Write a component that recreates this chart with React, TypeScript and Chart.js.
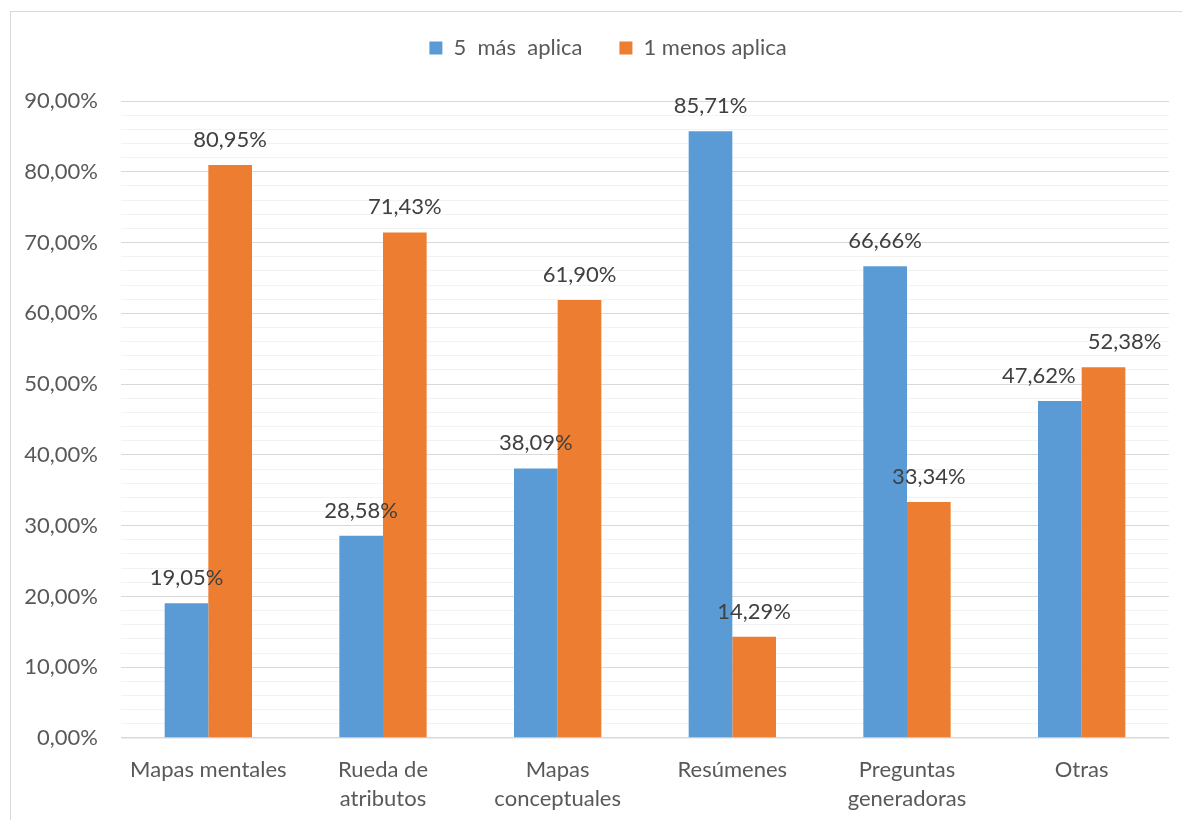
import React, { useEffect, useRef } from "react";
import { Chart, registerables } from "chart.js";

Chart.register(...registerables);

const categories: (string | string[])[] = [
  "Mapas mentales",
  ["Rueda de", "atributos"],
  ["Mapas", "conceptuales"],
  "Resúmenes",
  ["Preguntas", "generadoras"],
  "Otras",
];
const seriesNames = ["5  más  aplica", "1 menos aplica"];
const masAplica = [19.05, 28.58, 38.09, 85.71, 66.66, 47.62];
const menosAplica = [80.95, 71.43, 61.9, 14.29, 33.34, 52.38];
const colors = ["#5B9BD5", "#ED7D31"];

const FONT = "Lato, 'Open Sans', sans-serif";
const FS = 22;
const fmt = (v: number) => v.toFixed(2).replace(".", ",") + "%";

const dataLabels = {
  id: "dataLabels",
  afterDatasetsDraw(chart: any) {
    const ctx = chart.ctx;
    ctx.save();
    ctx.font = `${FS}px ${FONT}`;
    ctx.fillStyle = "#404040";
    ctx.textAlign = "center";
    ctx.textBaseline = "alphabetic";
    const m0 = chart.getDatasetMeta(0);
    const m1 = chart.getDatasetMeta(1);
    const n = chart.data.labels.length;
    for (let i = 0; i < n; i++) {
      const items = [m0, m1].map((m: any, d: number) => {
        const el = m.data[i];
        const v = chart.data.datasets[d].data[i];
        const text = fmt(v);
        return { x: el.x, y: el.y - 18, text, w: ctx.measureText(text).width };
      });
      const [a, b] = items;
      if (Math.abs(a.y - b.y) < 40) {
        const need = (a.w + b.w) / 2 + 12;
        const have = b.x - a.x;
        if (have < need) {
          const s = (need - have) / 2;
          a.x -= s;
          b.x += s;
        }
      }
      items.forEach((it) => ctx.fillText(it.text, it.x, it.y));
    }
    ctx.restore();
  },
};

const legendTweak = {
  id: "legendTweak",
  beforeInit(chart: any) {
    const lg = chart.legend;
    if (!lg) return;
    const origFit = lg.fit;
    lg.fit = function () {
      origFit.bind(lg)();
      lg.height = 101;
    };
    const origDraw = lg.draw;
    lg.draw = function () {
      const ctx = chart.ctx;
      ctx.save();
      ctx.translate(23.5, 0);
      origDraw.bind(lg)();
      ctx.restore();
    };
  },
};

export default function App() {
  const ref = useRef<HTMLCanvasElement | null>(null);
  useEffect(() => {
    if (!ref.current) return;
    const chart = new Chart(ref.current, {
      type: "bar",
      data: {
        labels: categories as any,
        datasets: [
          {
            label: seriesNames[0],
            data: masAplica,
            backgroundColor: colors[0],
            categoryPercentage: 0.5,
            barPercentage: 1.0,
          },
          {
            label: seriesNames[1],
            data: menosAplica,
            backgroundColor: colors[1],
            categoryPercentage: 0.5,
            barPercentage: 1.0,
          },
        ],
      },
      options: {
        animation: false,
        responsive: false,
        maintainAspectRatio: false,
        layout: { padding: { top: 0, left: 0, right: 13, bottom: 0 } },
        plugins: {
          legend: {
            position: "top",
            labels: {
              boxWidth: 13,
              boxHeight: 13,
              padding: 37,
              color: "#595959",
              font: { family: FONT, size: FS },
            },
          },
          tooltip: { enabled: false },
        },
        scales: {
          x: {
            grid: { display: false, drawTicks: false },
            border: { display: false },
            ticks: {
              color: "#595959",
              font: { family: FONT, size: FS, lineHeight: 1.32 },
              padding: 17,
              maxRotation: 0,
              autoSkip: false,
            },
            afterFit(scale: any) {
              scale.height = 82;
            },
          },
          y: {
            min: 0,
            max: 90,
            border: { display: false },
            grid: {
              drawTicks: false,
              color: (c: any) =>
                c.tick && Math.round(c.tick.value) % 10 === 0 ? "#d9d9d9" : "#f2f2f2",
              lineWidth: (c: any) => (c.tick && c.tick.value === 0 ? 1.5 : 1),
            },
            ticks: {
              stepSize: 2,
              autoSkip: false,
              padding: 23,
              color: "#595959",
              font: { family: FONT, size: FS },
              callback: (v: any) => (Math.round(v) % 10 === 0 ? fmt(Number(v)) : ""),
            },
            afterFit(scale: any) {
              scale.width = 121;
            },
          },
        },
      } as any,
      plugins: [dataLabels, legendTweak],
    });
    return () => chart.destroy();
  }, []);

  return (
    <div style={{ position: "fixed", left: 0, top: 0, width: 1182, height: 820, background: "#fff", overflow: "hidden" }}>
      <div
        style={{
          position: "absolute",
          left: 10,
          top: 11,
          width: 1200,
          height: 900,
          borderLeft: "1px solid #d9d9d9",
          borderTop: "1px solid #d9d9d9",
        }}
      />
      <canvas ref={ref} width={1182} height={820} style={{ position: "absolute", left: 0, top: 0 }} />
    </div>
  );
}
